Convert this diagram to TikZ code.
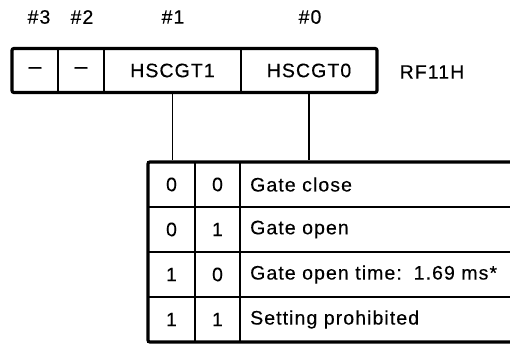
\documentclass[tikz,border=0pt]{standalone}
\usepackage{fontspec}
\setmainfont{Liberation Sans}[LetterSpace=5.5, FakeBold=0.3]
\usetikzlibrary{fit}
\begin{document}
\begin{tikzpicture}[x=1pt,y=-1pt,
  font=\fontsize{19.5}{22}\selectfont,
  cell/.style={draw, line width=1.5pt, minimum height=44pt, inner sep=0pt, anchor=center},
  trow/.style={draw, line width=1.5pt, minimum height=45pt, inner sep=0pt},
  frame/.style={draw, line width=3.2pt, rounded corners=2pt, inner sep=0pt},
  conn/.style={line width=1.2pt},
  dashtext/.style={font=\fontsize{23}{24}\selectfont},
  lbl/.style={inner sep=0pt}]
\useasboundingbox (0,0) rectangle (510,345);
% register cells
\node[cell, minimum width=46pt, dashtext]  (b3) at (35,70.5)    {--};
\node[cell, minimum width=46pt, dashtext]  (b2) at (81,70.5)    {--};
\node[cell, minimum width=137pt] (b1) at (172.5,70.5) {HSCGT1};
\node[cell, minimum width=136pt] (b0) at (309,70.5)   {HSCGT0};
\node[frame, fit={(12,48.5) (377,92.5)}] (reg) {};
% bit labels
\node[lbl] (l3) at (39,17)  {\#3};
\node[lbl] (l2) at (82,17)  {\#2};
\node[lbl] (l1) at (173,17) {\#1};
\node[lbl] (l0) at (310,17) {\#0};
\node[lbl] (rf) at (432,72) {RF11H};
% table
\foreach \r/\y/\a/\b/\t in {0/184.5/0/0/Gate close,
                            1/229.5/0/1/Gate open,
                            2/274.5/1/0/{Gate open time:\, 1.69 ms*},
                            3/319.5/1/1/Setting prohibited}{
  \node[trow, minimum width=47pt] (ta\r) at (171.5,\y) {\a};
  \node[trow, minimum width=45pt] (tb\r) at (217.5,\y) {\b};
  \node[trow, minimum width=272pt] (tc\r) at (376,\y) {};
  \node[lbl, anchor=west] (td\r) at (250,\y) {\t};
}
\node[frame, fit={(148,162) (520,342)}] (tab) {};
% connectors
\draw[conn] (b1.south) -- (b1.south |- tab.north);
\draw[conn] (b0.south) -- (b0.south |- tab.north);
\end{tikzpicture}
\end{document}
